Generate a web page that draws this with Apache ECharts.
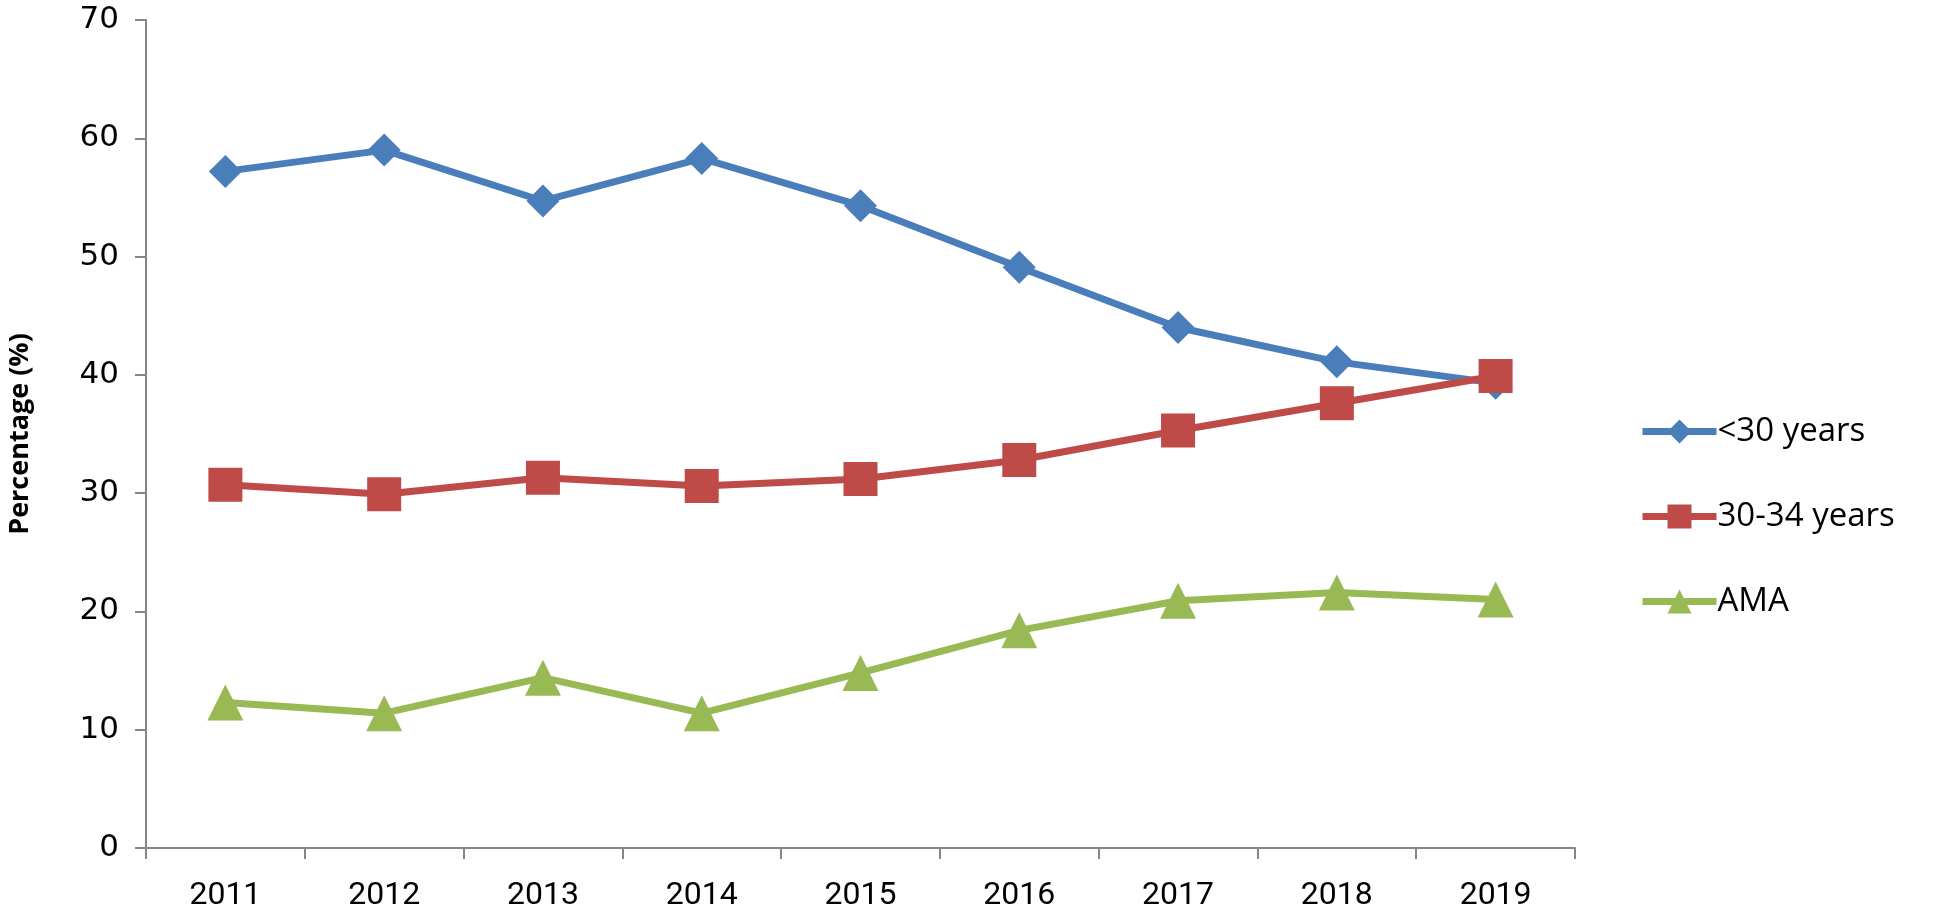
<!DOCTYPE html>
<html>
<head>
<meta charset="utf-8">
<script src="https://cdn.jsdelivr.net/npm/echarts@6/dist/echarts.min.js"></script>
<style>
  html, body { margin: 0; padding: 0; background: #fff; }
  #chart { width: 1944px; height: 920px; }
</style>
</head>
<body>
<div id="chart"></div>
<script>
const years = ['2011', '2012', '2013', '2014', '2015', '2016', '2017', '2018', '2019']
const under30 = [57.2, 59.0, 54.7, 58.3, 54.3, 49.1, 44.0, 41.1, 39.3]
const age30to34 = [30.7, 29.9, 31.3, 30.6, 31.2, 32.8, 35.3, 37.6, 39.9]
const ama = [12.3, 11.4, 14.4, 11.4, 14.8, 18.4, 20.9, 21.6, 21.0]

const axisColor = '#868686'

const chart = echarts.init(document.getElementById('chart'))

const lineSeries = (name, data, color, symbol, size) => ({
  name,
  type: 'line',
  data,
  symbol,
  symbolSize: size,
  showAllSymbol: true,
  lineStyle: { color, width: 7 },
  itemStyle: { color },
  emphasis: { disabled: true }
})

chart.setOption({
  animation: false,
  grid: { left: 146, right: 369, top: 20, bottom: 72, outerBoundsMode: 'none' },
  legend: {
    orient: 'vertical',
    left: 1634,
    top: 410,
    itemWidth: 74,
    itemHeight: 30,
    itemGap: 52,
    lineStyle: { width: 7 },
    textStyle: { fontSize: 33, color: '#000', fontFamily: 'Open Sans', padding: [0, 0, 0, -4] },
    data: ['<30 years', '30-34 years', 'AMA']
  },
  xAxis: {
    type: 'category',
    data: years,
    boundaryGap: true,
    axisLine: { lineStyle: { color: axisColor, width: 2 } },
    axisTick: { show: true, length: 11, lineStyle: { color: axisColor, width: 2 } },
    axisLabel: { fontSize: 32, color: '#000', margin: 32, fontFamily: 'Liberation Sans Narrow, Roboto, sans-serif' }
  },
  yAxis: {
    type: 'value',
    min: 0,
    max: 70,
    interval: 10,
    name: 'Percentage (%)',
    nameLocation: 'middle',
    nameGap: 112,
    nameTextStyle: { fontSize: 27, fontWeight: 'bold', color: '#000', fontFamily: 'Open Sans' },
    axisLine: { show: true, lineStyle: { color: axisColor, width: 2 } },
    axisTick: { show: true, length: 11, lineStyle: { color: axisColor, width: 2 } },
    axisLabel: { fontSize: 31, color: '#000', margin: 27, fontFamily: 'DejaVu Sans' },
    splitLine: { show: false }
  },
  series: [
    lineSeries('<30 years', under30, '#4a7ebb', 'diamond', 33),
    lineSeries('30-34 years', age30to34, '#be4b48', 'rect', 34),
    lineSeries('AMA', ama, '#98b954', 'triangle', 36)
  ]
})
</script>
</body>
</html>
